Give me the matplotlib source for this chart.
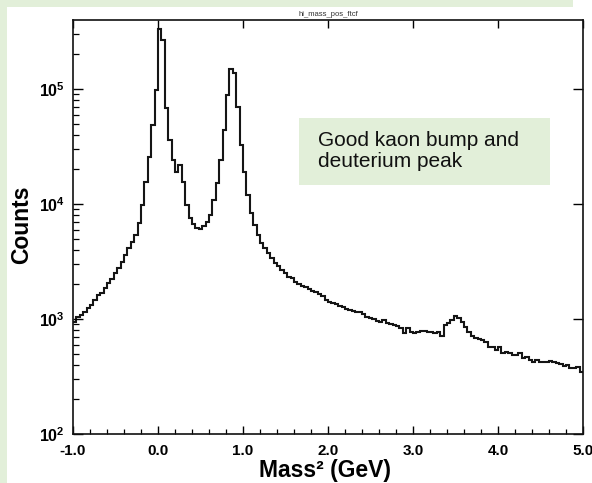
import numpy as np
import matplotlib
matplotlib.use("Agg")
import matplotlib.pyplot as plt
from matplotlib.patches import Rectangle
from matplotlib.ticker import FixedLocator, MultipleLocator, NullFormatter, LogLocator

# Histogram hi_mass_pos_ftcf: mass^2 spectrum of positive tracks
mass2_lo, mass2_hi = -1.0, 5.0
counts = [
    940, 1040, 1080, 1150, 1250, 1320, 1460, 1620, 1680, 1860,
    2060, 2230, 2510, 2780, 3130, 3600, 4140, 4680, 5370, 6840,
    9800, 15500, 25600, 48600, 98000, 333000, 267000, 68400, 36000, 24200,
    19000, 21800, 15500, 9800, 7550, 6700, 6180, 6070, 6440, 6970,
    8020, 10830, 15200, 24200, 44000, 88700, 149000, 138000, 69700, 32600,
    19000, 12000, 8350, 6570, 5370, 4580, 4140, 3750, 3390, 3070,
    2890, 2670, 2510, 2320, 2270, 2100, 2010, 1940, 1900, 1820,
    1750, 1720, 1650, 1585, 1460, 1410, 1380, 1350, 1300, 1270,
    1220, 1200, 1170, 1150, 1140, 1100, 1040, 1020, 1000, 960,
    940, 980, 920, 905, 890, 870, 835, 755, 830, 770,
    755, 770, 785, 790, 770, 775, 755, 770, 710, 890,
    920, 980, 1060, 1020, 940, 850, 770, 710, 685, 670,
    655, 630, 570, 575, 540, 570, 505, 515, 505, 486,
    485, 505, 458, 467, 440, 423, 440, 425, 420, 423,
    430, 422, 414, 406, 390, 398, 375, 372, 383, 345,
]
edges = np.linspace(mass2_lo, mass2_hi, len(counts) + 1)

x_major = [-1.0, 0.0, 1.0, 2.0, 3.0, 4.0, 5.0]
x_labels = ["-1.0", "0.0", "1.0", "2.0", "3.0", "4.0", "5.0"]
y_major = [1e2, 1e3, 1e4, 1e5]
y_labels = [r"$10^{2}$", r"$10^{3}$", r"$10^{4}$", r"$10^{5}$"]

plt.rcParams["font.family"] = ["Liberation Sans", "DejaVu Sans"]
plt.rcParams["mathtext.fontset"] = "custom"
plt.rcParams["mathtext.rm"] = "Liberation Sans:bold"
plt.rcParams["mathtext.it"] = "Liberation Sans:bold"
plt.rcParams["mathtext.bf"] = "Liberation Sans:bold"

W, H = 592, 483
fig = plt.figure(figsize=(W / 100, H / 100), dpi=100, facecolor="white")

green = "#e2efd9"
# slide background strips
fig.patches.append(Rectangle((0, 1 - 7 / H), 573 / W, 7 / H, transform=fig.transFigure,
                             facecolor=green, edgecolor="none", zorder=0))
fig.patches.append(Rectangle((0, 0), 7 / W, 1, transform=fig.transFigure,
                             facecolor=green, edgecolor="none", zorder=0))

ax = fig.add_axes([73 / W, (H - 434) / H, 510 / W, 414 / H])
ax.set_facecolor("white")
ax.stairs(counts, edges, baseline=None, color="#151515", linewidth=1.5)

ax.set_yscale("log")
ax.set_xlim(mass2_lo, mass2_hi)
ax.set_ylim(1e2, 10 ** 5.6)

for s in ax.spines.values():
    s.set_linewidth(1.2)
    s.set_color("#111111")

# x ticks: inward, majors on both edges, minors on bottom only
ax.xaxis.set_major_locator(FixedLocator(x_major))
ax.set_xticklabels(x_labels)
ax.xaxis.set_minor_locator(MultipleLocator(0.2))
ax.tick_params(axis="x", which="major", direction="in", length=6, width=1.0,
               top=True, pad=7, labelsize=11)
ax.tick_params(axis="x", which="minor", direction="in", length=3.5, width=0.9,
               top=False)

# y ticks
ax.yaxis.set_major_locator(FixedLocator(y_major))
ax.set_yticklabels(y_labels)
ax.yaxis.set_minor_locator(LogLocator(base=10, subs=np.arange(2, 10)))
ax.yaxis.set_minor_formatter(NullFormatter())
ax.tick_params(axis="y", which="major", direction="in", length=7, width=1.0,
               right=True, pad=6, labelsize=11.5)
ax.tick_params(axis="y", which="minor", direction="in", length=4, width=0.9,
               right=False)
for lbl in ax.get_xticklabels():
    lbl.set_fontweight("bold")

ax.set_xlabel("Mass² (GeV)", fontsize=16.5, fontweight="bold", va="baseline")
ax.xaxis.set_label_coords(0.494, -0.104)
ax.set_ylabel("Counts", fontsize=16.5, fontweight="bold")
ax.yaxis.set_label_coords(-0.078, 0.506)

fig.text(328 / W, 1 - 14 / H, "hi_mass_pos_ftcf", ha="center", va="center",
         fontsize=5.5, color="#333333")

# annotation box
fig.patches.append(Rectangle((299 / W, 1 - 185 / H), 251 / W, 67 / H,
                             transform=fig.transFigure, facecolor=green,
                             edgecolor="none", zorder=3))
fig.text(318 / W, 1 - 151 / H, "Good kaon bump and\ndeuterium peak",
         ha="left", va="center", fontsize=15, color="#111111",
         linespacing=1.1, zorder=4)

fig.savefig("out.png", dpi=100, facecolor=fig.get_facecolor())
